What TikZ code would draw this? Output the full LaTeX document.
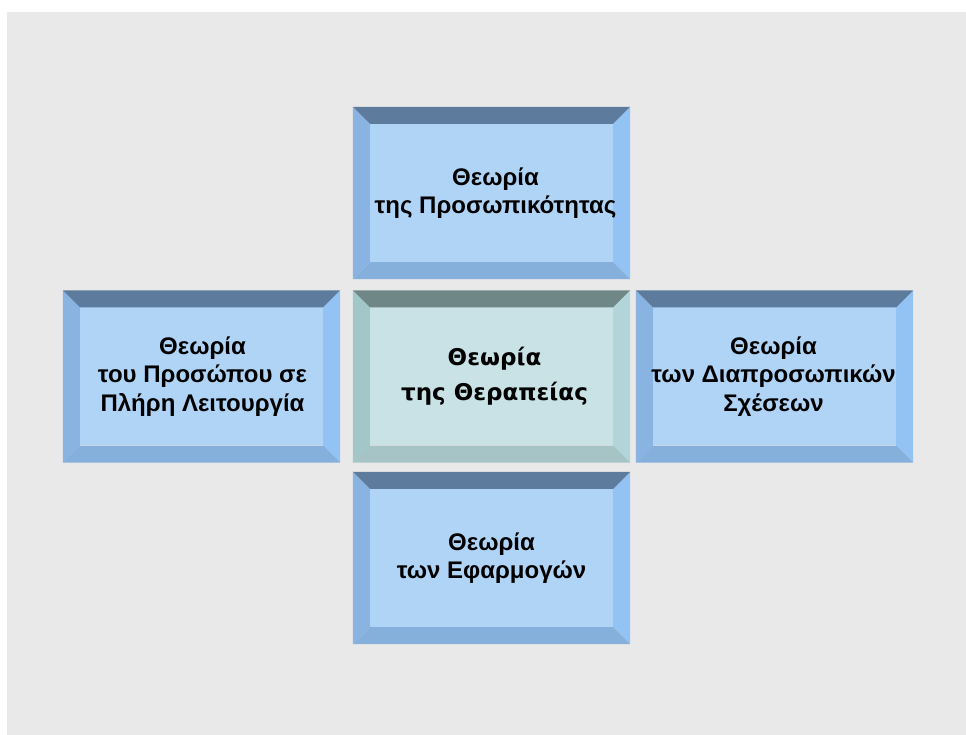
\documentclass[tikz,border=0pt]{standalone}
\usepackage{fontspec}
\usetikzlibrary{calc}
\newfontfamily\labelfont{Liberation Sans}[Script=Greek]
\newfontfamily\hubfont{DejaVu Sans}[Script=Greek]

\definecolor{canvas}{HTML}{E9E9E9}
% blue boxes
\definecolor{blueface}{HTML}{B0D4F6}
\definecolor{bluetop}{HTML}{5D7B9C}
\definecolor{blueleft}{HTML}{89B3E1}
\definecolor{blueright}{HTML}{93C3F4}
\definecolor{bluebottom}{HTML}{86B0DC}
% central box
\definecolor{tealface}{HTML}{C8E2E5}
\definecolor{tealtop}{HTML}{708787}
\definecolor{tealleft}{HTML}{A2C7C9}
\definecolor{tealright}{HTML}{B1D5D8}
\definecolor{tealbottom}{HTML}{A6C4C6}

\tikzset{
  face/.style={minimum width=243pt, minimum height=138pt, inner sep=0pt},
  boxtext/.style={align=center, text=black, inner sep=0pt},
  leaflabel/.style={font=\labelfont\bfseries\fontsize{24}{28.5}\selectfont},
  hublabel/.style={font=\hubfont\bfseries\fontsize{23}{35}\selectfont},
}

% #1 node name, #2 centre, #3 colour prefix, #4 label style,
% #5 horizontal text offset, #6 text
\newcommand{\bevelbox}[6]{%
  \node[face, fill=#3face] (#1) at (#2) {};
  \fill[#3left] (#1.north west) -- ++(-17,17) -- ($(#1.south west)+(-17,-17)$)
    -- (#1.south west) -- cycle;
  \fill[#3right] (#1.north east) -- ++(17,17) -- ($(#1.south east)+(17,-17)$)
    -- (#1.south east) -- cycle;
  \fill[#3bottom] (#1.south west) -- (#1.south east) -- ++(17,-17)
    -- ($(#1.south west)+(-17,-17)$) -- cycle;
  \fill[#3top] (#1.north west) -- (#1.north east) -- ++(17,17)
    -- ($(#1.north west)+(-17,17)$) -- cycle;
  \node[boxtext, #4] (#1-text) at ($(#1.center)+(#5,0)$) {#6};
}

\begin{document}
\begin{tikzpicture}[x=1pt, y=1pt]
  \useasboundingbox (0,0) rectangle (966,735);
  \fill[canvas] (7,0) rectangle (966,723);

  \bevelbox{personality}{491.5,542}{blue}{leaflabel}{4}{Θεωρία\\της Προσωπικότητας}
  \bevelbox{therapy}{491.5,358.5}{teal}{hublabel}{3}{Θεωρία\\της Θεραπείας}
  \bevelbox{person}{201.5,358.5}{blue}{leaflabel}{1}{Θεωρία\\του Προσώπου σε\\Πλήρη Λειτουργία}
  \bevelbox{relations}{774.5,358.5}{blue}{leaflabel}{-1}{Θεωρία\\των Διαπροσωπικών\\Σχέσεων}
  \bevelbox{applications}{491.5,177}{blue}{leaflabel}{0}{Θεωρία\\των Εφαρμογών}
\end{tikzpicture}
\end{document}
